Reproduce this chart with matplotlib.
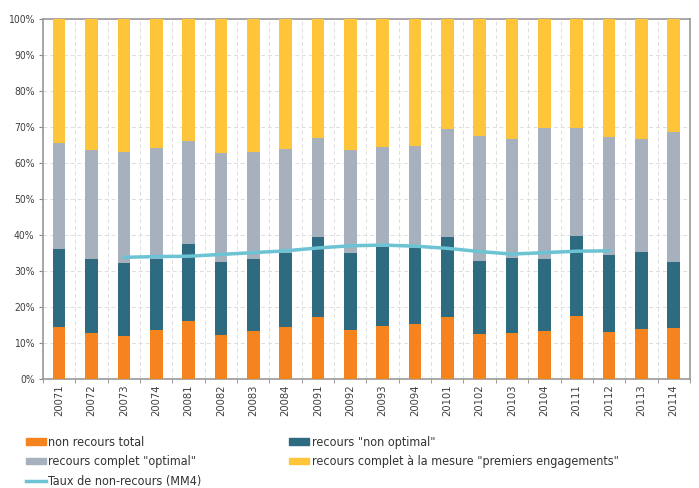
import numpy as np
import matplotlib
matplotlib.use("Agg")
from matplotlib import pyplot as plt
from matplotlib.lines import Line2D
from matplotlib.patches import Patch

quarters = ["20071", "20072", "20073", "20074", "20081", "20082", "20083", "20084",
            "20091", "20092", "20093", "20094", "20101", "20102", "20103", "20104",
            "20111", "20112", "20113", "20114"]
# cumulative tops, in %
non_recours = [14.4, 12.8, 11.9, 13.5, 16.1, 12.2, 13.3, 14.4, 17.2, 13.6,
               14.7, 15.3, 17.2, 12.4, 12.7, 13.3, 17.5, 13.0, 13.9, 14.1]
top_non_optimal = [36.1, 33.3, 32.2, 33.3, 37.4, 32.4, 33.3, 35.0, 39.4, 35.0,
                   36.8, 36.5, 39.4, 32.9, 33.7, 33.3, 39.7, 34.5, 35.4, 32.5]
top_optimal = [65.6, 63.6, 63.1, 64.3, 66.0, 62.8, 63.1, 63.9, 67.0, 63.6,
               64.4, 64.6, 69.4, 67.6, 66.6, 69.6, 69.8, 67.3, 66.6, 68.7]
# moving average line, starts at 20073 and stops at 20112
mm4 = [33.8, 34.0, 34.1, 34.6, 35.1, 35.6, 36.4, 37.0, 37.2, 36.9,
       36.3, 35.4, 34.7, 35.1, 35.5, 35.6]

non_optimal = np.array(top_non_optimal) - np.array(non_recours)
optimal = np.array(top_optimal) - np.array(top_non_optimal)
premiers = 100 - np.array(top_optimal)

c_orange = "#F5841F"
c_dark = "#2E6A80"
c_gray = "#A7B1BE"
c_yellow = "#FFC53A"
c_line = "#6BC3D3"

plt.rcParams['font.family'] = ['DejaVu Sans']
plt.rcParams['font.stretch'] = 'condensed'

fig = plt.figure(figsize=(6.99, 4.88), dpi=100)
ax = fig.add_axes([0.0615, 0.2234, 0.9255, 0.7376])

x = np.arange(len(quarters))
w = 0.39
ax.bar(x, non_recours, w, color=c_orange, zorder=3)
ax.bar(x, non_optimal, w, bottom=non_recours, color=c_dark, zorder=3)
ax.bar(x, optimal, w, bottom=top_non_optimal, color=c_gray, zorder=3)
ax.bar(x, premiers, w, bottom=top_optimal, color=c_yellow, zorder=3)
ax.plot(x[2:2 + len(mm4)], mm4, color=c_line, lw=2.5, zorder=4, solid_capstyle="round")

ax.set_xlim(-0.5, len(quarters) - 0.5)
ax.set_ylim(0, 100)
ax.set_yticks(np.arange(0, 101, 10))
ax.set_yticklabels([f"{v}%" for v in range(0, 101, 10)], fontsize=7.5, color="#404040")
ax.set_xticks(x)
ax.set_xticklabels(quarters, rotation=90, fontsize=8, color="#404040")
ax.tick_params(axis="x", length=0, pad=4)
ax.tick_params(axis="y", length=3, color="#888888", pad=3)
ax.set_xticks(np.arange(-0.5, len(quarters), 1), minor=True)
ax.tick_params(axis="x", which="minor", length=3, color="#888888")

ax.grid(axis="y", color="#dddddd", ls=(0, (4, 3)), lw=0.7, zorder=0)
ax.grid(axis="x", which="minor", color="#dddddd", ls=(0, (4, 3)), lw=0.7, zorder=0)
ax.grid(axis="x", which="major", visible=False)
for s in ax.spines.values():
    s.set_color("#999999")
    s.set_linewidth(1.2)

handles = [Patch(color=c_orange), Patch(color=c_gray),
           Line2D([], [], color=c_line, lw=2.5),
           Patch(color=c_dark), Patch(color=c_yellow)]
labels = ["non recours total", "recours complet \"optimal\"", "Taux de non-recours (MM4)",
          "recours \"non optimal\"", "recours complet à la mesure \"premiers engagements\""]
fig.legend(handles, labels, ncol=2, loc="upper left", bbox_to_anchor=(0.028, 0.119),
           frameon=False, fontsize=9, handlelength=1.6, handleheight=0.45,
           handletextpad=0.2, columnspacing=7.0, labelspacing=0.5, borderpad=0,
           labelcolor="#333333")

fig.savefig("out.png", dpi=100)
